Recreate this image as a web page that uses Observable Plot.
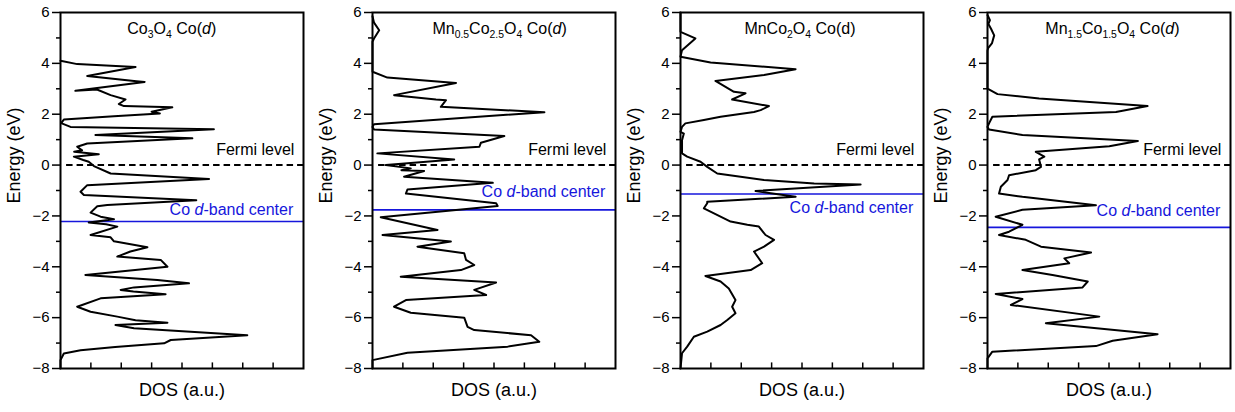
<!DOCTYPE html>
<html>
<head>
<meta charset="utf-8">
<script src="https://cdn.jsdelivr.net/npm/d3@7"></script>
<script src="https://cdn.jsdelivr.net/npm/@observablehq/plot@0.6"></script>
<style>
  body { margin: 0; background: #fff; }
  #chart { position: relative; width: 1235px; height: 412px; font-family: "Liberation Sans", Arial, sans-serif; }
  #chart svg { position: absolute; top: 0; }
</style>
</head>
<body>
<div id="chart"></div>
<script>
// [energy (eV), DOS (a.u.)]
const co3o4Dos = [
  [4.1,0],[3.97,0.55],[3.92,1.5],[3.86,2.47],[3.5,0.88],[3.3,2.5],[3.27,2.77],[2.92,0.49],[2.97,1.2],[2.75,1.65],
  [2.58,2.14],[2.4,1.92],[2.32,2.09],[2.27,3.68],[2.1,3.0],[2.03,3.27],[1.92,1.76],[1.79,0.11],[1.65,0.02],[1.5,0.33],
  [1.41,5.05],[1.18,1.15],[1.05,4.34],[0.85,0.88],[0.72,0.55],[0.58,0.71],[0.52,0.45],[0.43,1.26],[0.33,0.44],[0.2,0.75],
  [0.13,0.93],[-0.04,1.1],[-0.33,1.65],[-0.55,4.89],[-0.79,0.88],[-1.05,0.66],[-1.18,0.77],[-1.38,4.47],[-1.57,1.54],[-1.62,1.21],
  [-1.87,0.99],[-2.03,1.32],[-2.13,1.76],[-2.26,0.93],[-2.33,1.5],[-2.42,1.87],[-2.75,0.99],[-2.84,1.65],[-3.0,1.76],[-3.23,2.86],
  [-3.4,2.3],[-3.6,1.87],[-3.73,3.3],[-4.0,3.52],[-4.32,0.82],[-4.52,3.19],[-4.65,4.23],[-4.81,2.42],[-4.91,1.98],[-4.97,2.4],
  [-5.08,3.46],[-5.24,1.32],[-5.57,0.55],[-5.77,0.99],[-5.96,1.87],[-6.1,2.47],[-6.2,3.52],[-6.29,1.81],[-6.42,2.42],[-6.69,6.15],
  [-6.88,3.63],[-7.01,3.41],[-7.15,1.8],[-7.28,0.66],[-7.41,0.11],[-7.67,0],[-8,0]
];
const mn05Dos = [
  [5.85,0],[5.6,0.05],[5.3,0.22],[5.0,0.06],[4.85,0],[3.67,0],[3.44,0.49],[3.23,2.75],[2.75,0.71],[2.58,2.09],
  [2.55,2.42],[2.29,2.25],[2.08,5.66],[1.61,0.05],[1.5,0],[1.4,0.05],[1.14,4.34],[0.88,3.57],[0.72,3.52],[0.46,0.16],
  [0.22,2.69],[0.0,0.44],[-0.13,1.26],[-0.2,0.95],[-0.23,1.7],[-0.46,1.04],[-0.7,3.96],[-0.96,1.15],[-1.12,1.1],[-1.5,4.07],
  [-1.61,4.12],[-2.05,0.27],[-2.55,2.14],[-2.75,0.33],[-3.01,2.58],[-3.21,1.48],[-3.47,3.02],[-3.73,3.08],[-3.93,3.35],[-4.13,2.91],
  [-4.39,0.93],[-4.62,4.07],[-4.91,3.35],[-5.11,3.74],[-5.31,1.1],[-5.57,0.71],[-5.81,1.26],[-6.0,3.02],[-6.36,3.13],[-6.49,3.35],
  [-6.69,5.22],[-6.95,5.49],[-7.14,4.45],[-7.38,1.15],[-7.67,0],[-8,0]
];
const mnco2o4Dos = [
  [6,0],[5.24,0],[4.98,0.49],[4.52,0.05],[4.26,0],[4.03,0.99],[3.77,3.79],[3.54,2.75],[3.31,1.15],[2.88,1.76],
  [2.82,2.14],[2.58,1.7],[2.32,2.91],[2.16,2.64],[2.09,2.42],[1.9,1.32],[1.77,0.77],[1.64,0.16],[1.5,0.05],[1.31,0],
  [1.24,0.11],[0.98,0.05],[0.46,0.05],[0.33,0.22],[0.13,0.66],[-0.07,0.88],[-0.33,1.21],[-0.59,2.75],[-0.72,4.4],[-0.76,5.93],
  [-1.02,2.47],[-1.25,3.79],[-1.44,0.88],[-1.5,0.88],[-1.7,0.77],[-2.22,1.65],[-2.35,2.2],[-2.42,2.58],[-2.75,2.8],[-2.94,3.08],
  [-3.21,2.75],[-3.4,2.42],[-3.86,2.69],[-4.13,2.31],[-4.36,0.82],[-4.58,1.32],[-4.85,1.59],[-5.31,1.81],[-5.57,1.7],[-5.83,1.81],
  [-6.09,1.54],[-6.29,1.32],[-6.55,0.88],[-6.75,0.44],[-7.14,0.22],[-7.4,0.05],[-8,0]
];
const mn15Dos = [
  [5.9,0],[5.7,0.08],[5.55,0.03],[5.35,0.12],[5.1,0.22],[4.8,0.15],[4.6,0.02],[4.5,0],[3.01,0],[2.79,0.33],
  [2.62,1.7],[2.32,5.27],[2.09,4.23],[1.9,0.16],[1.64,0.05],[1.5,0],[1.4,0.05],[1.18,1.15],[0.95,4.95],[0.74,4.01],
  [0.52,1.59],[0.33,1.87],[0.22,1.7],[-0.07,1.76],[-0.2,1.59],[-0.4,0.71],[-0.59,0.66],[-0.85,0.44],[-1.12,0.38],[-1.25,1.15],
  [-1.58,3.57],[-1.76,1.15],[-2.03,0.27],[-2.35,1.15],[-2.62,0.71],[-2.75,0.38],[-2.94,1.26],[-3.21,1.76],[-3.44,3.41],[-3.67,2.53],
  [-3.86,2.69],[-4.13,1.15],[-4.32,2.14],[-4.58,3.3],[-4.81,3.13],[-5.07,0.27],[-5.27,1.15],[-5.5,0.77],[-5.96,3.68],[-6.22,1.92],
  [-6.65,5.6],[-6.91,4.12],[-7.12,3.57],[-7.34,0.16],[-7.6,0],[-8,0]
];

const dbandCenters = [-2.22, -1.76, -1.14, -2.45];
const dbandLabelY = [-1.83, -1.1, -1.74, -1.86];
const fermiLabelY = 0.58;
const yMajorTicks = [-8, -6, -4, -2, 0, 2, 4, 6];
const yMinorTicks = [-7, -5, -3, -1, 1, 3, 5];
const xTicks = [1, 2, 3, 4, 5, 6, 7];

// title parts: [text, style] where style: "n" normal, "s" subscript, "i" italic
const titles = [
  [["Co","n"],["3","s"],["O","n"],["4","s"],[" Co(","n"],["d","i"],[")","n"]],
  [["Mn","n"],["0.5","s"],["Co","n"],["2.5","s"],["O","n"],["4","s"],[" Co(","n"],["d","i"],[")","n"]],
  [["MnCo","n"],["2","s"],["O","n"],["4","s"],[" Co(d)","n"]],
  [["Mn","n"],["1.5","s"],["Co","n"],["1.5","s"],["O","n"],["4","s"],[" Co(","n"],["d","i"],[")","n"]]
];
const titleCenters = [3.68, 4.2, 3.95, 4.13];
const panelData = [co3o4Dos, mn05Dos, mnco2o4Dos, mn15Dos];
const panelLefts = [0, 312, 620, 927];

const BLUE = "rgb(22,22,220)";
const FONT = "Liberation Sans, Arial, sans-serif";

function richText(svg, parts, px, py, {size = 14, fill = "black", anchor = "middle"} = {}) {
  const t = svg.append("text")
    .attr("x", px).attr("y", py)
    .attr("text-anchor", anchor)
    .attr("dominant-baseline", "middle")
    .attr("font-family", FONT)
    .attr("font-size", size)
    .attr("fill", fill);
  let shifted = false;
  for (const [s, st] of parts) {
    const sp = t.append("tspan").text(s);
    if (st === "s") {
      sp.attr("font-size", size * 0.65).attr("dy", shifted ? 0 : size * 0.32);
      shifted = true;
    } else {
      if (shifted) sp.attr("dy", -size * 0.32);
      shifted = false;
      if (st === "i") sp.attr("font-style", "italic");
    }
  }
  return t;
}

const root = document.getElementById("chart");

panelData.forEach((data, i) => {
  const plot = Plot.plot({
    width: 308,
    height: 412,
    marginLeft: 60,
    marginRight: 5,
    marginTop: 12,
    marginBottom: 44,
    style: {fontFamily: FONT, background: "transparent", color: "black"},
    x: {domain: [0, 8], axis: null},
    y: {domain: [-8, 6], axis: null},
    marks: [
      Plot.axisY(yMajorTicks, {tickSize: 8, tickPadding: 3, fontSize: 15, label: null, strokeWidth: 1.5}),
      Plot.axisY(yMinorTicks, {tickSize: 4, tickFormat: () => "", label: null, strokeWidth: 1.5}),
      Plot.ruleX(xTicks, {x: d => d, y1: -8, y2: -7.78, strokeWidth: 1.5}),
      Plot.ruleY([0], {x1: 0.2, x2: 8, stroke: "black", strokeWidth: 2, strokeDasharray: "6.5,4"}),
      Plot.ruleY([dbandCenters[i]], {x1: 0, x2: 8, stroke: BLUE, strokeWidth: 1.6}),
      Plot.line(data, {x: d => d[1], y: d => d[0], stroke: "black", strokeWidth: 2, curve: "linear"}),
      Plot.text(["Fermi level"], {x: 7.7, y: fermiLabelY, textAnchor: "end", fontSize: 16, fill: "black"}),
      Plot.text(["Energy (eV)"], {frameAnchor: "left", rotate: -90, dx: -46, dy: 13, fontSize: 18, fill: "black"}),
      Plot.text(["DOS (a.u.)"], {frameAnchor: "bottom", dy: 27, fontSize: 18, fill: "black"}),
      Plot.frame({stroke: "black", strokeWidth: 2})
    ]
  });
  plot.style.left = panelLefts[i] + "px";
  root.appendChild(plot);
  const svg = d3.select(plot);
  const sx = plot.scale("x"), sy = plot.scale("y");
  richText(svg, titles[i], sx.apply(titleCenters[i]), sy.apply(5.3), {size: 16});
  richText(svg, [["Co ","n"],["d","i"],["-band center","n"]], sx.apply(7.68), sy.apply(dbandLabelY[i]), {size: 16, fill: BLUE, anchor: "end"});
});
</script>
</body>
</html>
